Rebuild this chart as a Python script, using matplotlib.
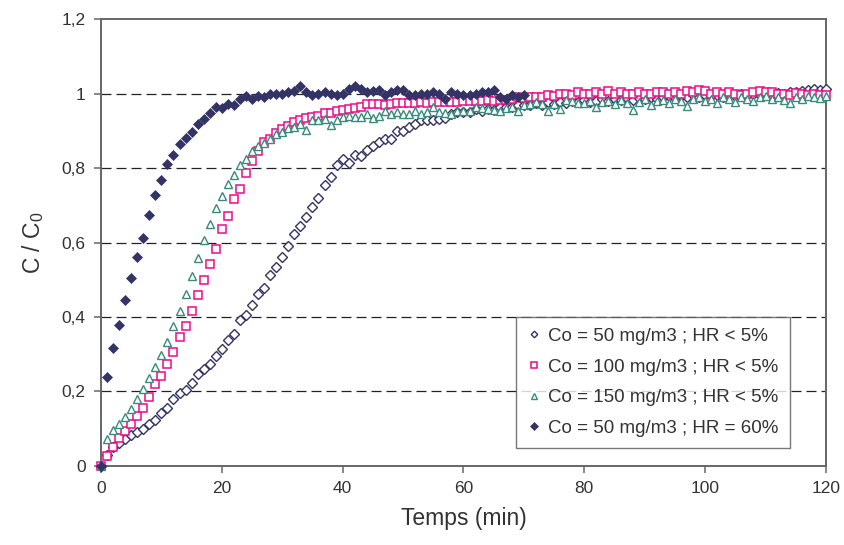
import numpy as np
import matplotlib
matplotlib.use('Agg')
import matplotlib.pyplot as plt
from matplotlib.ticker import FuncFormatter

plt.rcParams['font.family'] = ['Liberation Sans', 'DejaVu Sans']

# time axis (min)
t_full = list(range(0, 121))
t_hr60 = list(range(0, 71))

# Co = 50 mg/m3 ; HR < 5%
c50 = [0, 0.03, 0.052, 0.062, 0.072, 0.083, 0.091, 0.098, 0.112, 0.123,
       0.141, 0.156, 0.179, 0.195, 0.204, 0.222, 0.247, 0.26, 0.275, 0.296,
       0.313, 0.338, 0.354, 0.391, 0.405, 0.431, 0.463, 0.477, 0.514, 0.535,
       0.561, 0.592, 0.622, 0.644, 0.668, 0.695, 0.72, 0.755, 0.776, 0.808,
       0.823, 0.813, 0.834, 0.832, 0.849, 0.858, 0.87, 0.878, 0.878, 0.9,
       0.9, 0.91, 0.919, 0.928, 0.928, 0.928, 0.932, 0.934, 0.944, 0.95,
       0.95, 0.95, 0.959, 0.953, 0.959, 0.955, 0.963, 0.963, 0.963, 0.97,
       0.968, 0.97, 0.975, 0.968, 0.977, 0.972, 0.978, 0.975, 0.981, 0.977,
       0.983, 0.978, 0.981, 0.985, 0.98, 0.986, 0.983, 0.987, 0.983, 0.988,
       0.985, 0.99, 0.986, 0.99, 0.993, 0.988, 0.993, 0.99, 0.995, 0.992,
       0.997, 0.993, 0.996, 0.99, 0.997, 0.994, 0.998, 0.995, 1.0, 0.996,
       1.0, 0.997, 1.002, 0.999, 1.003, 1.005, 1.008, 1.01, 1.012, 1.01,
       1.013]

# Co = 100 mg/m3 ; HR < 5%
c100 = [0, 0.027, 0.052, 0.074, 0.095, 0.113, 0.134, 0.157, 0.186, 0.22,
        0.241, 0.273, 0.306, 0.347, 0.375, 0.416, 0.458, 0.499, 0.541, 0.582,
        0.635, 0.67, 0.716, 0.744, 0.786, 0.82, 0.845, 0.869, 0.878, 0.894,
        0.905, 0.914, 0.923, 0.929, 0.935, 0.938, 0.94, 0.947, 0.947, 0.954,
        0.957, 0.959, 0.962, 0.965, 0.972, 0.972, 0.972, 0.968, 0.972, 0.974,
        0.974, 0.974, 0.974, 0.977, 0.974, 0.977, 0.977, 0.977, 0.977, 0.977,
        0.979, 0.979, 0.979, 0.981, 0.983, 0.981, 0.983, 0.983, 0.986, 0.99,
        0.988, 0.99, 0.992, 0.99, 0.995, 0.993, 1.0, 0.998, 0.996, 1.003,
        0.998, 1.0, 1.005, 0.998, 1.008, 1.0, 1.005, 0.998, 1.0, 1.005,
        1.0, 0.998, 1.003, 1.005, 0.998, 1.005, 1.0, 1.008, 1.003, 1.01,
        1.008, 1.0, 1.003, 0.998, 1.005, 1.0, 0.997, 1.0, 1.003, 1.007,
        1.003, 1.005, 0.998, 1.0, 0.995, 1.002, 0.998, 0.995, 1.0, 0.997,
        0.995]

# Co = 150 mg/m3 ; HR < 5%
c150 = [0, 0.072, 0.097, 0.114, 0.132, 0.152, 0.179, 0.208, 0.237, 0.266,
        0.299, 0.333, 0.375, 0.416, 0.461, 0.509, 0.559, 0.608, 0.651, 0.692,
        0.724, 0.758, 0.782, 0.807, 0.825, 0.845, 0.858, 0.867, 0.878, 0.892,
        0.898, 0.907, 0.91, 0.917, 0.903, 0.928, 0.928, 0.931, 0.916, 0.93,
        0.937, 0.941, 0.938, 0.938, 0.944, 0.935, 0.941, 0.954, 0.946, 0.95,
        0.946, 0.946, 0.954, 0.946, 0.95, 0.963, 0.95, 0.948, 0.946, 0.954,
        0.954, 0.952, 0.963, 0.961, 0.959, 0.957, 0.954, 0.961, 0.963, 0.954,
        0.968, 0.972, 0.977, 0.972, 0.954, 0.972, 0.959, 0.983, 0.981, 0.974,
        0.975, 0.98, 0.963, 0.977, 0.98, 0.972, 0.983, 0.975, 0.955, 0.978,
        0.985, 0.97, 0.98, 0.982, 0.975, 0.985, 0.98, 0.967, 0.985, 0.99,
        0.98, 0.985, 0.975, 0.99, 0.985, 0.978, 0.99, 0.985, 0.98, 0.99,
        0.993, 0.985, 0.99, 0.983, 0.975, 0.99, 0.985, 0.993, 0.99, 0.988,
        0.993]

# Co = 50 mg/m3 ; HR = 60%
c50_hr60 = [0, 0.24, 0.318, 0.378, 0.447, 0.506, 0.561, 0.613, 0.675, 0.727,
            0.767, 0.81, 0.834, 0.865, 0.88, 0.897, 0.919, 0.932, 0.948, 0.965,
            0.962, 0.973, 0.97, 0.985, 0.993, 0.985, 0.993, 0.99, 1.0, 1.0,
            1.0, 1.005, 1.007, 1.019, 1.004, 0.995, 0.999, 1.004, 0.999, 0.995,
            0.999, 1.013, 1.019, 1.013, 1.004, 1.008, 1.01, 0.995, 1.004, 1.01,
            1.01, 0.995, 0.995, 0.999, 0.999, 1.004, 0.999, 0.986, 1.004, 0.999,
            0.995, 0.995, 0.999, 1.004, 1.004, 1.01, 0.99, 0.986, 0.995, 0.992,
            0.996]

labels = ['Co = 50 mg/m3 ; HR < 5%', 'Co = 100 mg/m3 ; HR < 5%',
          'Co = 150 mg/m3 ; HR < 5%', 'Co = 50 mg/m3 ; HR = 60%']

navy = '#333366'
pink = '#ee0a8a'
teal = '#3a8a7c'
txt = '#333333'

fig = plt.figure(figsize=(8.45, 5.45), dpi=100)
ax = fig.add_axes([0.1195, 0.145, 0.858, 0.82])

ax.plot(t_full, c50, 'D', ms=4.6, mfc='white', mec=navy, mew=1.0,
        ls='none', label=labels[0], clip_on=False, zorder=3)
ax.plot(t_full, c100, 's', ms=5.8, mfc='white', mec=pink, mew=1.1,
        ls='none', label=labels[1], clip_on=False, zorder=4)
ax.plot(t_full, c150, '^', ms=6.4, mfc='white', mec=teal, mew=1.0,
        ls='none', label=labels[2], clip_on=False, zorder=5)
ax.plot(t_hr60, c50_hr60, 'D', ms=5.2, mfc=navy, mec=navy, mew=0.5,
        ls='none', label=labels[3], clip_on=False, zorder=6)

ax.set_xlim(0, 120)
ax.set_ylim(0, 1.2)
ax.set_xticks(np.arange(0, 121, 20))
ax.set_yticks(np.arange(0, 1.21, 0.2))
ax.yaxis.set_major_formatter(FuncFormatter(lambda v, p: f'{v:g}'.replace('.', ',')))

for y in [0.2, 0.4, 0.6, 0.8, 1.0]:
    ax.axhline(y, color='#222222', lw=0.9, ls=(0, (8, 4)), zorder=1)

for s in ax.spines.values():
    s.set_color('#666666')
    s.set_linewidth(1.4)

ax.tick_params(direction='out', length=5, width=1.1, color='#666666',
               labelsize=12.5, labelcolor=txt, pad=6)

ax.set_xlabel('Temps (min)', fontsize=16.5, color=txt, labelpad=8)
ax.set_ylabel(r'C / C$_\mathregular{0}$', fontsize=16.5, color=txt, labelpad=11)

leg = ax.legend(loc='lower right', bbox_to_anchor=(0.95, 0.04), fontsize=13.5,
                frameon=True, fancybox=False, edgecolor='#555555',
                handlelength=0.7, handletextpad=0.4, labelspacing=0.72,
                markerscale=0.72, borderpad=0.6, borderaxespad=0)
leg.get_frame().set_linewidth(1.0)
for text in leg.get_texts():
    text.set_color(txt)

fig.savefig('out.png', dpi=100)
